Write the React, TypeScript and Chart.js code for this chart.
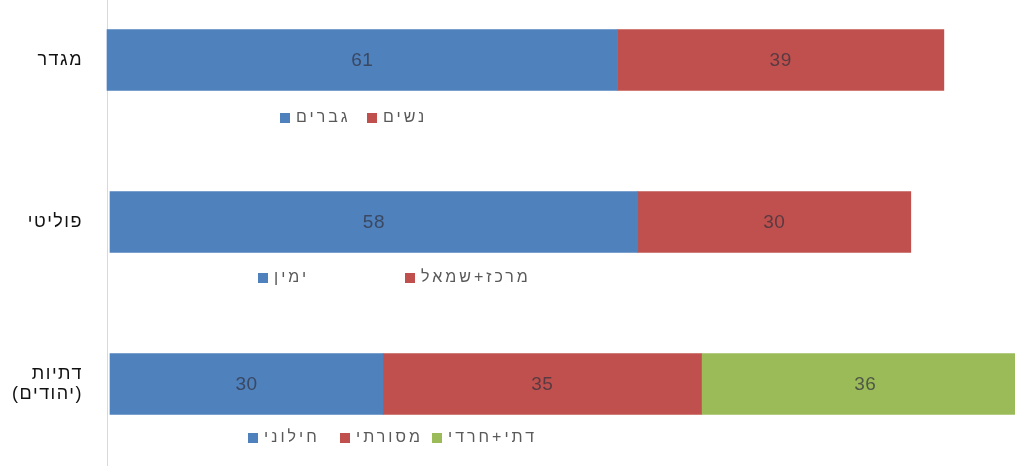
import React, { useEffect, useRef } from "react";
import { Chart, registerables } from "chart.js";

Chart.register(...registerables);

// ---- data ----
const categories: (string | string[])[] = ["מגדר", "פוליטי", ["דתיות", "(יהודים)"]];

const genderLabels = ["גברים", "נשים"];
const genderValues = [61, 39];

const politicalLabels = ["ימין", "מרכז+שמאל"];
const politicalValues = [58, 30];

const religiosityLabels = ["חילוני", "מסורתי", "דתי+חרדי"];
const religiosityValues = [30, 35, 36];

const groups = [
  { labels: genderLabels, values: genderValues, axis: "x1" },
  { labels: politicalLabels, values: politicalValues, axis: "x" },
  { labels: religiosityLabels, values: religiosityValues, axis: "x" },
];

// ---- styles / layout ----
const palette = ["#4F81BD", "#C0504D", "#9BBB59"];
const legendLayout = [
  { start: 280, column: 87, dy: 58 },
  { start: 258, column: 147, dy: 56 },
  { start: 248, column: 92, dy: 54 },
];
const FONT = "'Liberation Sans', Arial, 'DejaVu Sans', sans-serif";

export default function App() {
  const ref = useRef<HTMLCanvasElement | null>(null);

  useEffect(() => {
    document.body.style.margin = "0";
    const canvas = ref.current;
    if (!canvas) return;

    const datasets: any[] = [];
    groups.forEach((g, gi) => {
      g.values.forEach((v, si) => {
        datasets.push({
          label: g.labels[si],
          data: categories.map((_, ci) => (ci === gi ? v : null)),
          backgroundColor: palette[si],
          borderWidth: 0,
          barThickness: 61,
          xAxisID: g.axis,
          clip: false,
        });
      });
    });

    const spacing = {
      id: "spacing",
      beforeDraw(chart: any) {
        (chart.ctx as any).letterSpacing = "1.5px";
      },
    };

    const axisLine = {
      id: "axisLine",
      beforeDatasetsDraw(chart: any) {
        const { ctx, chartArea } = chart;
        ctx.save();
        ctx.strokeStyle = "#d9d9d9";
        ctx.lineWidth = 1;
        ctx.beginPath();
        ctx.moveTo(chartArea.left + 0.5, 0);
        ctx.lineTo(chartArea.left + 0.5, 466);
        ctx.stroke();
        ctx.restore();
      },
    };

    const valueLabels = {
      id: "valueLabels",
      afterDatasetsDraw(chart: any) {
        const { ctx } = chart;
        ctx.save();
        (ctx as any).letterSpacing = "0.5px";
        ctx.font = `19px ${FONT}`;
        ctx.fillStyle = "rgba(50,50,62,0.72)";
        ctx.textAlign = "center";
        ctx.textBaseline = "middle";
        chart.data.datasets.forEach((ds: any, di: number) => {
          const meta = chart.getDatasetMeta(di);
          meta.data.forEach((el: any, i: number) => {
            const v = ds.data[i];
            if (v === null || v === undefined) return;
            const cx = (el.x + el.base) / 2;
            ctx.fillText(String(v), cx, el.y + 1);
          });
        });
        ctx.restore();
      },
    };

    const groupLegends = {
      id: "groupLegends",
      afterDraw(chart: any) {
        const { ctx } = chart;
        const yScale = chart.scales.y;
        ctx.save();
        (ctx as any).letterSpacing = "3px";
        ctx.font = `16px ${FONT}`;
        ctx.textBaseline = "middle";
        ctx.textAlign = "left";
        groups.forEach((g, gi) => {
          const lay = legendLayout[gi];
          const y = yScale.getPixelForValue(gi) + lay.dy;
          g.labels.forEach((lab, si) => {
            const x = lay.start + si * lay.column;
            ctx.fillStyle = palette[si];
            ctx.fillRect(x, y - 5, 10, 10);
            ctx.fillStyle = "#595959";
            ctx.fillText(lab, x + 16, y);
          });
        });
        ctx.restore();
      },
    };

    const chart = new Chart(canvas, {
      type: "bar",
      data: { labels: categories as any, datasets },
      options: {
        indexAxis: "y",
        animation: false,
        responsive: false,
        maintainAspectRatio: false,
        layout: { padding: { top: 60, bottom: 88, left: 0, right: 0 } },
        plugins: {
          legend: { display: false },
          tooltip: { enabled: false },
        },
        scales: {
          x: {
            type: "linear",
            stacked: true,
            display: false,
            min: -0.33,
            max: 99.45,
          },
          x1: {
            type: "linear",
            stacked: true,
            display: false,
            min: 0,
            max: 108.5,
          },
          y: {
            type: "category",
            stacked: true,
            offset: false,
            grid: { display: false, drawTicks: false },
            border: { display: false },
            ticks: {
              padding: 24,
              color: "#111",
              font: { size: 18, family: FONT, lineHeight: 1.15 },
            },
            afterFit(scale: any) {
              scale.width = 107;
            },
          },
        },
      } as any,
      plugins: [spacing, axisLine, valueLabels, groupLegends],
    });

    return () => chart.destroy();
  }, []);

  return (
    <div style={{ position: "absolute", left: 0, top: 0, width: 1015, height: 472 }}>
      <canvas ref={ref} width={1015} height={472} style={{ display: "block" }} />
    </div>
  );
}
